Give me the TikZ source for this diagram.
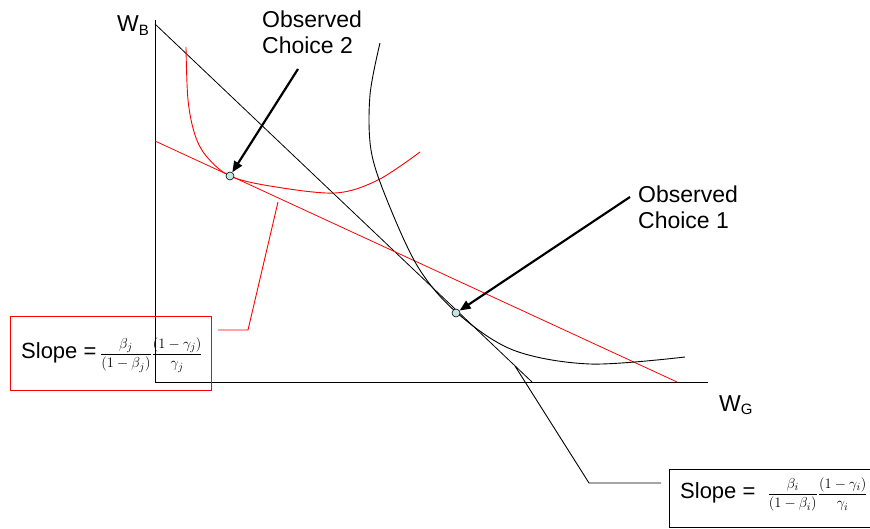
\documentclass[tikz,border=0pt]{standalone}
\usepackage{fontspec}
\setmainfont{Liberation Sans}
\usetikzlibrary{arrows.meta}
\definecolor{ptfill}{RGB}{196,228,228}
\begin{document}
\begin{tikzpicture}[x=1pt,y=-1pt,
  axisline/.style={black,line width=0.9pt},
  budget/.style={line width=0.8pt},
  curve/.style={line width=0.9pt},
  leader/.style={line width=0.9pt},
  choicept/.style={circle,draw=black,fill=ptfill,inner sep=0pt,minimum size=8pt,line width=0.6pt},
  callout/.style={-{Triangle[length=11pt,width=9pt]},line width=2.2pt},
  lbl/.style={font=\fontsize{23}{27}\selectfont,inner sep=0pt,align=left},
  slopetext/.style={inner sep=0pt,anchor=base west},
  slopebox/.style={line width=1pt}]
\useasboundingbox (0,0) rectangle (870,529);

% axes
\coordinate (origin) at (155,382);
\coordinate (ytop) at (155,20);
\coordinate (xend) at (708,382);
\draw[axisline] (ytop) -- (origin) -- (xend);
\node[lbl,anchor=base west] (wb) at (117,32) {W\textsubscript{\fontsize{15}{15}\selectfont B}};
\node[lbl,anchor=base west] (wg) at (719,411) {W\textsubscript{\fontsize{15}{15}\selectfont G}};

% budget lines
\coordinate (bA) at (155,24);
\coordinate (bB) at (532,382);
\draw[budget] (bA) -- (bB);
\coordinate (rA) at (155,141);
\coordinate (rB) at (677,382);
\draw[budget,red] (rA) -- (rB);

% indifference curves
\draw[curve,red] plot[smooth,tension=0.55] coordinates
  {(186,47) (188,100) (195,135) (207,157) (230,176) (270,186) (335,193) (378,180) (420,152)};
\draw[curve] plot[smooth,tension=0.55] coordinates
  {(380,43) (370,95) (371,150) (387,200) (418,267) (456,312) (513,350) (590,364) (685,357)};

% observed choices
\node[choicept] (c2) at (230,176) {};
\node[choicept] (c1) at (456,313) {};

% labels with arrows
\node[lbl,anchor=base west] (o2) at (262,54) {Observed\\[-1pt]Choice 2};
\node[lbl,anchor=base west] (o1) at (638,229) {Observed\\[-1pt]Choice 1};
\coordinate (a2) at (298,69);
\coordinate (a1) at (630,197);
\draw[callout] (a2) -- (c2);
\draw[callout] (a1) -- (c1);

% slope boxes
\draw[slopebox,red] (10,317) rectangle (211,390);
\node[slopetext] (sj) at (21,358)
  {\fontsize{22}{25}\selectfont Slope =\,\fontsize{15}{18}\selectfont$\displaystyle\frac{\beta_j}{\left(1-\beta_j\right)}\frac{\left(1-\gamma_j\right)}{\gamma_j}$};
\draw[slopebox] (669,469) rectangle (876,527);
\node[slopetext] (si) at (680,498)
  {\fontsize{22}{25}\selectfont Slope = \ \fontsize{15}{18}\selectfont$\displaystyle\frac{\beta_i}{\left(1-\beta_i\right)}\frac{\left(1-\gamma_i\right)}{\gamma_i}$};

% leaders from boxes to budget lines
\coordinate (lr1) at (278,202);
\coordinate (lr2) at (248,330);
\coordinate (lr3) at (218,330);
\draw[leader,red] (lr1) -- (lr2) -- (lr3);
\coordinate (lb1) at (515,366);
\coordinate (lb2) at (589,483);
\coordinate (lb3) at (661,483);
\draw[leader] (lb1) -- (lb2) -- (lb3);
\end{tikzpicture}
\end{document}
